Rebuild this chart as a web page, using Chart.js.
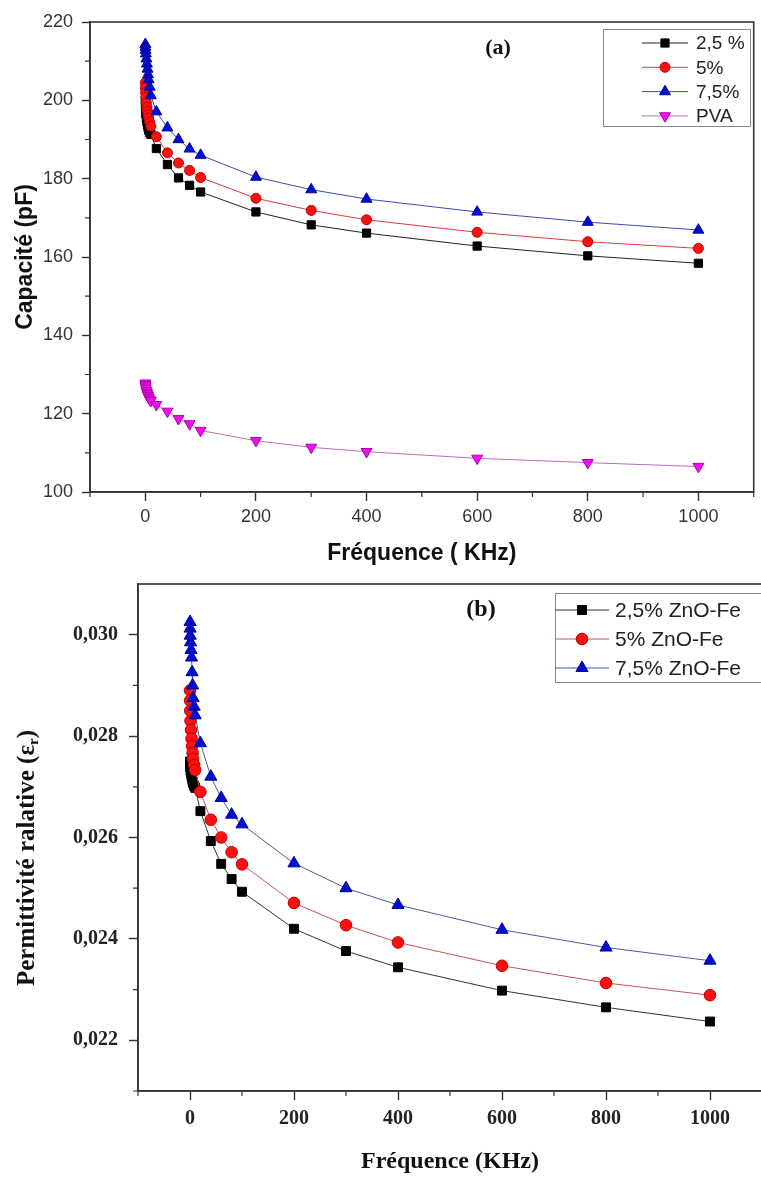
<!DOCTYPE html>
<html>
<head>
<meta charset="utf-8">
<script src="https://cdn.jsdelivr.net/npm/chart.js@4/dist/chart.umd.min.js"></script>
<style>
  html, body { margin: 0; padding: 0; background: #fff; overflow: hidden; width: 761px; height: 1177px; }
  canvas { position: absolute; left: 0; }
  #ca { top: 0; }
  #cb { top: 575px; }
</style>
</head>
<body>
<canvas id="ca" width="761" height="575"></canvas>
<canvas id="cb" width="770" height="602"></canvas>
<script>
// ---------- data ----------
const freq = [0.1, 0.2, 0.5, 1, 2, 3, 4, 5, 6, 8, 10, 20, 40, 60, 80, 100, 200, 300, 400, 600, 800, 1000];

const capLabels = ['2,5 %', '5%', '7,5%', 'PVA'];
const cap25  = [200.0, 198.8, 197.6, 196.5, 195.4, 194.5, 193.7, 193.0, 192.4, 191.8, 191.3, 187.7, 183.6, 180.2, 178.3, 176.6, 171.5, 168.2, 166.1, 162.8, 160.3, 158.4];
const cap5   = [204.5, 203.2, 202.0, 200.8, 199.4, 198.2, 197.2, 196.3, 195.5, 194.4, 193.4, 190.7, 186.6, 184.0, 182.1, 180.3, 175.0, 171.9, 169.5, 166.3, 163.9, 162.2];
const cap75  = [214.3, 213.6, 212.8, 211.9, 210.6, 209.3, 208.0, 206.6, 205.3, 203.4, 201.2, 197.1, 193.0, 190.0, 187.6, 186.0, 180.4, 177.2, 174.8, 171.5, 168.9, 166.9];
const capPVA = [127.8, 127.4, 127.0, 126.5, 125.9, 125.4, 125.0, 124.6, 124.2, 123.7, 123.3, 122.3, 120.6, 118.7, 117.4, 115.7, 113.1, 111.4, 110.3, 108.6, 107.5, 106.5];

const permLabels = ['2,5% ZnO-Fe', '5% ZnO-Fe', '7,5% ZnO-Fe'];
const perm25 = [0.02750, 0.02744, 0.02738, 0.02732, 0.02726, 0.02721, 0.02716, 0.02711, 0.02707, 0.02702, 0.02698, 0.02652, 0.02593, 0.02548, 0.02518, 0.02493, 0.02420, 0.02376, 0.02344, 0.02298, 0.02265, 0.02237];
const perm5  = [0.02890, 0.02870, 0.02850, 0.02830, 0.02812, 0.02795, 0.02780, 0.02767, 0.02755, 0.02743, 0.02733, 0.02690, 0.02635, 0.02600, 0.02571, 0.02547, 0.02471, 0.02427, 0.02393, 0.02347, 0.02313, 0.02289];
const perm75 = [0.03025, 0.03012, 0.02998, 0.02985, 0.02970, 0.02955, 0.02926, 0.02900, 0.02875, 0.02858, 0.02841, 0.02786, 0.02720, 0.02678, 0.02645, 0.02626, 0.02549, 0.02500, 0.02467, 0.02418, 0.02383, 0.02357];

const xTicks = [0, 200, 400, 600, 800, 1000];
const xMinor = [-100, 100, 300, 500, 700, 900, 1100];
const capTicks = [100, 120, 140, 160, 180, 200, 220];
const capMinor = [110, 130, 150, 170, 190, 210];
const permTicks = [0.022, 0.024, 0.026, 0.028, 0.030];
const permMinor = [0.021, 0.023, 0.025, 0.027, 0.029];

// ---------- helpers ----------
const pts = ys => freq.map((f, i) => ({ x: f, y: ys[i] }));

function series(label, ys, style, fill, border, line, radius, order, rotation) {
  return {
    label, data: pts(ys), order,
    showLine: true, tension: 0,
    borderColor: line, borderWidth: 1,
    pointStyle: style, pointRadius: radius, pointHoverRadius: radius,
    pointRotation: rotation || 0,
    pointBackgroundColor: fill, pointBorderColor: border, pointBorderWidth: 1
  };
}

function drawMarker(ctx, ds, x, y) {
  ctx.fillStyle = ds.pointBackgroundColor;
  ctx.strokeStyle = ds.pointBorderColor;
  ctx.lineWidth = 1;
  if (Chart.helpers && Chart.helpers.drawPoint) {
    Chart.helpers.drawPoint(ctx, { pointStyle: ds.pointStyle, radius: ds.pointRadius, rotation: ds.pointRotation, borderWidth: 1 }, x, y);
  } else {
    ctx.beginPath(); ctx.arc(x, y, ds.pointRadius, 0, Math.PI * 2); ctx.fill(); ctx.stroke();
  }
}

const decor = {
  id: 'decor',
  afterDraw(chart, args, o) {
    const { ctx, chartArea: a } = chart;
    const xs = chart.scales.x, ys = chart.scales.y;
    ctx.save();
    // frame
    ctx.strokeStyle = '#333'; ctx.lineWidth = 1.6;
    ctx.strokeRect(a.left, a.top, a.right - a.left, a.bottom - a.top);
    // minor ticks
    ctx.lineWidth = 1.2;
    ctx.beginPath();
    o.xMinor.forEach(v => { const p = xs.getPixelForValue(v); ctx.moveTo(p, a.bottom); ctx.lineTo(p, a.bottom + 5); });
    o.yMinor.forEach(v => { const p = ys.getPixelForValue(v); ctx.moveTo(a.left - 5, p); ctx.lineTo(a.left, p); });
    ctx.stroke();
    // legend
    const L = o.legend;
    ctx.fillStyle = '#fff';
    ctx.fillRect(L.x, L.y, L.w, L.h);
    ctx.strokeStyle = '#888'; ctx.lineWidth = 1;
    ctx.strokeRect(L.x + 0.5, L.y + 0.5, L.w, L.h);
    chart.data.datasets.forEach((ds, i) => {
      const yy = L.row0 + i * L.rowH;
      ctx.strokeStyle = ds.borderColor; ctx.lineWidth = 1;
      ctx.beginPath(); ctx.moveTo(L.l1, yy); ctx.lineTo(L.l2, yy); ctx.stroke();
      drawMarker(ctx, ds, (L.l1 + L.l2) / 2, yy);
      ctx.fillStyle = '#222';
      ctx.font = L.font;
      ctx.textAlign = 'left'; ctx.textBaseline = 'middle';
      ctx.fillText(ds.label, L.tx, yy + 1);
    });
    // panel tag
    ctx.fillStyle = '#111';
    ctx.font = o.tag.font;
    ctx.textAlign = 'center'; ctx.textBaseline = 'middle';
    ctx.fillText(o.tag.text, o.tag.x, o.tag.y);
    // custom y title with subscript
    if (o.yTitle) {
      const t = o.yTitle;
      ctx.save();
      ctx.translate(t.x, t.y);
      ctx.rotate(-Math.PI / 2);
      ctx.font = t.font;
      const w1 = ctx.measureText(t.main).width;
      ctx.font = t.subFont;
      const w2 = ctx.measureText(t.sub).width;
      ctx.font = t.font;
      const w3 = ctx.measureText(t.end).width;
      let x0 = -(w1 + w2 + w3) / 2;
      ctx.textAlign = 'left'; ctx.textBaseline = 'middle'; ctx.fillStyle = '#111';
      ctx.fillText(t.main, x0, 0);
      ctx.font = t.subFont;
      ctx.fillText(t.sub, x0 + w1, 6);
      ctx.font = t.font;
      ctx.fillText(t.end, x0 + w1 + w2, 0);
      ctx.restore();
    }
    ctx.restore();
  }
};

function fixW(w) { return s => { s.width = w; s.paddingTop = 0; s.paddingBottom = 0; }; }
function fixH(h) { return s => { s.height = h; s.paddingLeft = 0; s.paddingRight = 0; }; }
const plainNum = v => String(v);

// ---------- chart (a) ----------
const sansTick = { family: "'Liberation Sans', Arial, sans-serif", size: 18 };
new Chart(document.getElementById('ca'), {
  type: 'scatter',
  data: {
    datasets: [
      series(capLabels[0], cap25, 'rect', '#000000', '#000000', '#222222', 5.8, 4),
      series(capLabels[1], cap5, 'circle', '#ff1010', '#c00000', '#e03a3a', 5, 3),
      series(capLabels[2], cap75, 'triangle', '#0010d0', '#0000a0', '#3a4ab0', 6.3, 2),
      series(capLabels[3], capPVA, 'triangle', '#ee10ee', '#b000b0', '#b870c0', 6.3, 1, 180)
    ]
  },
  options: {
    responsive: false, animation: false, devicePixelRatio: 1,
    layout: { padding: { top: 22, right: 4, left: 0, bottom: 0 } },
    plugins: {
      legend: { display: false }, tooltip: { enabled: false },
      decor: {
        xMinor, yMinor: capMinor,
        legend: { x: 603, y: 29, w: 147, h: 97, row0: 43, rowH: 24.3, l1: 642, l2: 688, tx: 696, font: "19px 'Liberation Sans', Arial, sans-serif" },
        tag: { text: '(a)', x: 498, y: 48, font: "bold 22px 'Liberation Serif', 'Times New Roman', serif" }
      }
    },
    scales: {
      x: {
        type: 'linear', min: -100, max: 1100,
        afterBuildTicks: s => { s.ticks = xTicks.map(v => ({ value: v })); },
        afterFit: fixH(83),
        grid: { drawOnChartArea: false, tickLength: 9, tickColor: '#333', tickWidth: 1.4 },
        border: { display: true, color: '#333', width: 1.6 },
        ticks: { font: sansTick, color: '#333', padding: 5, maxRotation: 0, callback: plainNum },
        title: { display: true, text: 'Fréquence ( KHz)', color: '#111', padding: { top: 0, bottom: 8 },
                 font: { family: "'Liberation Sans', Arial, sans-serif", size: 23, weight: 'bold' } }
      },
      y: {
        type: 'linear', min: 100, max: 220,
        afterBuildTicks: s => { s.ticks = capTicks.map(v => ({ value: v })); },
        afterFit: fixW(90),
        grid: { drawOnChartArea: false, tickLength: 8, tickColor: '#333', tickWidth: 1.4 },
        border: { display: true, color: '#333', width: 1.6 },
        ticks: { font: sansTick, color: '#333', padding: 9, callback: plainNum },
        title: { display: true, text: 'Capacité (pF)', color: '#111', padding: { top: 12, bottom: 0 },
                 font: { family: "'Liberation Sans', Arial, sans-serif", size: 23, weight: 'bold' } }
      }
    }
  },
  plugins: [decor]
});

// ---------- chart (b) ----------
const serifTick = { family: "'Liberation Serif', 'Times New Roman', serif", size: 20, weight: 'bold' };
new Chart(document.getElementById('cb'), {
  type: 'scatter',
  data: {
    datasets: [
      series(permLabels[0], perm25, 'rect', '#000000', '#000000', '#333333', 6.3, 3),
      series(permLabels[1], perm5, 'circle', '#ff1010', '#c00000', '#d05050', 5.8, 2),
      series(permLabels[2], perm75, 'triangle', '#0010d0', '#0000a0', '#4a5a9a', 7, 1)
    ]
  },
  options: {
    responsive: false, animation: false, devicePixelRatio: 1,
    layout: { padding: { top: 9, right: 4, left: 0, bottom: 0 } },
    plugins: {
      legend: { display: false }, tooltip: { enabled: false },
      decor: {
        xMinor, yMinor: permMinor,
        legend: { x: 555, y: 18, w: 230, h: 89, row0: 35, rowH: 29, l1: 555, l2: 609, tx: 615, font: "21px 'Liberation Sans', Arial, sans-serif" },
        tag: { text: '(b)', x: 481, y: 35, font: "bold 24px 'Liberation Serif', 'Times New Roman', serif" },
        yTitle: { x: 28, y: 283, main: 'Permittivité ralative (ε', sub: 'r', end: ')',
                  font: "bold 25px 'Liberation Serif', 'Times New Roman', serif",
                  subFont: "bold 15px 'Liberation Serif', 'Times New Roman', serif" }
      }
    },
    scales: {
      x: {
        type: 'linear', min: -100, max: 1100,
        afterBuildTicks: s => { s.ticks = xTicks.map(v => ({ value: v })); },
        afterFit: fixH(86),
        grid: { drawOnChartArea: false, tickLength: 9, tickColor: '#333', tickWidth: 1.4 },
        border: { display: true, color: '#333', width: 1.6 },
        ticks: { font: serifTick, color: '#222', padding: 7, maxRotation: 0, callback: plainNum },
        title: { display: true, text: 'Fréquence (KHz)', color: '#111', padding: { top: 0, bottom: 1 },
                 font: { family: "'Liberation Serif', 'Times New Roman', serif", size: 24, weight: 'bold' } }
      },
      y: {
        type: 'linear', min: 0.021, max: 0.031,
        afterBuildTicks: s => { s.ticks = permTicks.map(v => ({ value: v })); },
        afterFit: fixW(138),
        grid: { drawOnChartArea: false, tickLength: 9, tickColor: '#333', tickWidth: 1.4 },
        border: { display: true, color: '#333', width: 1.6 },
        ticks: { font: serifTick, color: '#222', padding: 11,
                 callback: v => v.toFixed(3).replace('.', ',') },
        title: { display: false }
      }
    }
  },
  plugins: [decor]
});
</script>
</body>
</html>
